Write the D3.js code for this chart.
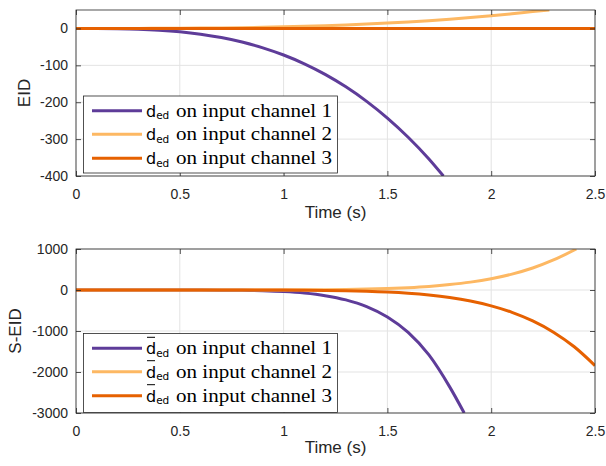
<!DOCTYPE html>
<html><head><meta charset="utf-8">
<script src="https://cdn.jsdelivr.net/npm/d3@7"></script>
<style>body{margin:0;background:#fff}svg{display:block}</style>
</head><body>
<svg id="c" width="606" height="466"></svg>
<script>
// ---- data ----
const seriesNames = ["on input channel 1", "on input channel 2", "on input channel 3"];
const xTicks = [0, 0.5, 1, 1.5, 2, 2.5];
const yTicksTop = [-400, -300, -200, -100, 0];
const yTicksBot = [-3000, -2000, -1000, 0, 1000];

// EID (top panel)
const tA1 = [0,0.1,0.2,0.3,0.4,0.5,0.6,0.7,0.8,0.9,1.0,1.1,1.2,1.3,1.4,1.5,1.6,1.7,1.77];
const eid1 = [0,-0.1,-0.6,-1.9,-4.6,-9,-15.6,-24.7,-36.9,-52.5,-72,-95.8,-124.4,-158.2,-197.6,-243,-294.9,-353.7,-400];
const tA2 = [0,0.1,0.2,0.3,0.4,0.5,0.6,0.7,0.8,0.9,1.0,1.1,1.2,1.3,1.4,1.5,1.6,1.7,1.8,1.9,2.0,2.1,2.2,2.28];
const eid2 = [0,0,0,0.1,0.3,0.5,0.9,1.5,2.2,3.1,4.3,5.7,7.4,9.4,11.8,14.5,17.6,21.1,25.1,29.5,34.4,39.8,45.8,50];
const tA3 = [0,0.5,1.0,1.5,2.0,2.5];
const eid3 = [0,0,0,0,0,0];

// S-EID (bottom panel)
const tB1 = [0,0.5,0.6,0.7,0.8,0.9,1.0,1.1,1.2,1.3,1.4,1.5,1.6,1.7,1.8,1.87];
const seid1 = [0,-0.3,-1.1,-3.2,-8.1,-18.5,-38.6,-75,-138,-242,-407,-660,-1036,-1584,-2363,-3000];
const tB2 = [0,0.5,0.8,0.9,1.0,1.1,1.2,1.3,1.4,1.5,1.6,1.7,1.8,1.9,2.0,2.1,2.2,2.3,2.41];
const seid2 = [0,0,0.4,1,2.2,4.2,7.7,13.5,22.7,36.7,57.7,88,132,192,275,387,536,732,1000];
const tB3 = [0,0.5,0.8,0.9,1.0,1.1,1.2,1.3,1.4,1.5,1.6,1.7,1.8,1.9,2.0,2.1,2.2,2.3,2.4,2.5];
const seid3 = [0,0,-0.6,-1.4,-3,-5.9,-10.8,-19,-31.8,-51.6,-81,-124,-185,-270,-387,-544,-753,-1028,-1385,-1843];

const colors = ["#5e3c99", "#fdb863", "#e66101"];

const SANS = '"Liberation Sans", Arial, sans-serif';
const SERIF = '"Liberation Serif", "Times New Roman", serif';
const DSANS = '"DejaVu Sans", sans-serif';

const svg = d3.select("#c");
const L = 76, R = 595;
const fmt = d => String(d); // plain hyphen-minus like the reference

function panel(cfg) {
  const g = svg.append("g");
  const x = d3.scaleLinear().domain([0, 2.5]).range([L, R]);
  const y = d3.scaleLinear().domain(cfg.ydom).range([cfg.bottom, cfg.top]);
  const id = "clip" + cfg.key;
  svg.append("clipPath").attr("id", id).append("rect")
    .attr("x", L).attr("y", cfg.top).attr("width", R - L).attr("height", cfg.bottom - cfg.top);
  // grid
  g.append("g").selectAll("line").data(xTicks).join("line")
    .attr("x1", d => x(d)).attr("x2", d => x(d)).attr("y1", cfg.top).attr("y2", cfg.bottom)
    .attr("stroke", "#e3e3e3").attr("stroke-width", 1);
  g.append("g").selectAll("line").data(cfg.yticks).join("line")
    .attr("y1", d => y(d)).attr("y2", d => y(d)).attr("x1", L).attr("x2", R)
    .attr("stroke", "#e3e3e3").attr("stroke-width", 1);
  // lines
  const line = d3.line().x(d => x(d[0])).y(d => y(d[1])).curve(d3.curveMonotoneX);
  const lg = g.append("g").attr("clip-path", `url(#${id})`);
  cfg.series.forEach((s, i) => {
    lg.append("path").datum(s.t.map((t, k) => [t, s.v[k]]))
      .attr("d", line).attr("fill", "none").attr("stroke", colors[i])
      .attr("stroke-width", 3).attr("stroke-linejoin", "round");
  });
  // axes (MATLAB-like inward ticks)
  const axX = d3.axisBottom(x).tickValues(xTicks).tickSize(-5).tickPadding(13).tickFormat(fmt);
  const axX2 = d3.axisTop(x).tickValues(xTicks).tickSize(-5).tickFormat("");
  const axY = d3.axisLeft(y).tickValues(cfg.yticks).tickSize(-5).tickPadding(8).tickFormat(fmt);
  const axY2 = d3.axisRight(y).tickValues(cfg.yticks).tickSize(-5).tickFormat("");
  const style = a => {
    a.style("font-family", SANS).style("font-size", "14px");
    a.selectAll(".tick line").attr("stroke", "#262626").attr("stroke-width", 0.8);
    a.selectAll("text").attr("fill", "#262626").style("font-family", SANS).style("font-size", "14px");
  };
  g.append("g").attr("transform", `translate(0,${cfg.bottom})`).call(axX).call(style);
  g.append("g").attr("transform", `translate(0,${cfg.top})`).call(axX2).call(style);
  g.append("g").attr("transform", `translate(${L},0)`).call(axY).call(style);
  g.append("g").attr("transform", `translate(${R},0)`).call(axY2).call(style);
  g.selectAll(".domain").remove();
  g.append("rect").attr("x", L).attr("y", cfg.top).attr("width", R - L).attr("height", cfg.bottom - cfg.top)
    .attr("fill", "none").attr("stroke", "#262626").attr("stroke-width", 0.8);
  // labels
  g.append("text").attr("x", (L + R) / 2).attr("y", cfg.bottom + cfg.xly).attr("text-anchor", "middle")
    .style("font-family", SANS).style("font-size", "17px").attr("fill", "#262626").text("Time (s)");
  g.append("text").attr("transform", `translate(${cfg.ylx},${(cfg.top + cfg.bottom) / 2}) rotate(-90)`)
    .attr("text-anchor", "middle").style("font-family", SANS).style("font-size", "17px")
    .attr("fill", "#262626").text(cfg.ylabel);
  // legend
  const lgd = g.append("g");
  lgd.append("rect").attr("x", 83.5).attr("y", cfg.leg.top).attr("width", 254).attr("height", cfg.leg.h)
    .attr("fill", "#fff").attr("stroke", "#262626").attr("stroke-width", 0.8);
  seriesNames.forEach((nm, i) => {
    const cy = cfg.leg.rows[i];
    lgd.append("line").attr("x1", 92).attr("x2", 142).attr("y1", cy).attr("y2", cy)
      .attr("stroke", colors[i]).attr("stroke-width", 3);
    const t = lgd.append("text").attr("x", 146).attr("y", cy + 6).attr("fill", "#000").style("font-family", DSANS);
    t.append("tspan").style("font-size", "16px").text("d");
    t.append("tspan").style("font-size", "10.5px").attr("dy", 2.5).text("ed");
    lgd.append("text").attr("x", 176).attr("y", cy + 6)
      .style("font-family", SERIF).style("font-size", "18px").attr("fill", "#000")
      .attr("textLength", 156).attr("lengthAdjust", "spacingAndGlyphs")
      .text(nm);
    if (cfg.bar) {
      lgd.append("line").attr("x1", 147).attr("x2", 155).attr("y1", cy - 11).attr("y2", cy - 11)
        .attr("stroke", "#000").attr("stroke-width", 1);
    }
  });
}

panel({ key: "a", top: 10, bottom: 176, ydom: [-400, 50], yticks: yTicksTop, ylabel: "EID", ylx: 30, xly: 42,
  series: [{ t: tA1, v: eid1 }, { t: tA2, v: eid2 }, { t: tA3, v: eid3 }],
  leg: { top: 96, h: 77, rows: [110.7, 134.3, 158.3] }, bar: false });
panel({ key: "b", top: 249, bottom: 413, ydom: [-3000, 1000], yticks: yTicksBot, ylabel: "S-EID", ylx: 21, xly: 40,
  series: [{ t: tB1, v: seid1 }, { t: tB2, v: seid2 }, { t: tB3, v: seid3 }],
  leg: { top: 333.5, h: 79, rows: [348.3, 371.7, 395.7] }, bar: true });
</script>
</body></html>
